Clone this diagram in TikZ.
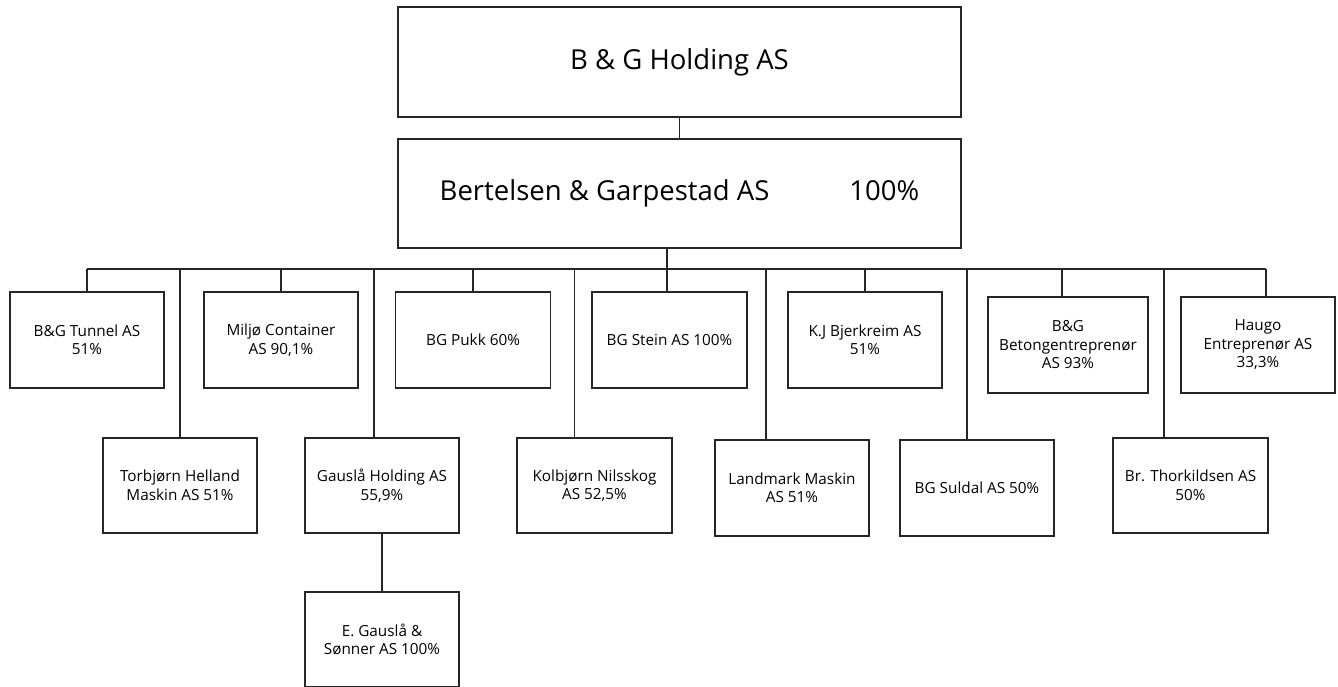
\documentclass[tikz,border=0pt]{standalone}
\usepackage{fontspec}
\setmainfont{Open Sans}
\begin{document}
\begin{tikzpicture}[x=1pt,y=-1pt,
  box/.style={draw=black!85, line width=1.5pt, rectangle, inner sep=0pt, align=center,
    font=\fontsize{15.3}{18.5}\selectfont},
  bigbox/.style={draw=black!85, line width=1.5pt, rectangle, inner sep=0pt, align=center,
    font=\fontsize{27.5}{32}\selectfont},
  link/.style={draw=black!85, line width=1.5pt}]
\useasboundingbox (0,0) rectangle (1338,686);
% top boxes
\node[bigbox, minimum width=563pt, minimum height=110pt] (hold) at (679.5,62) {B \& G Holding AS};
\node[bigbox, minimum width=563pt, minimum height=109pt] (bg) at (679.5,193.5) {Bertelsen \& Garpestad AS\hspace{80pt}100\%};
% row 1
\node[box, minimum width=154pt, minimum height=96pt] (tunnel) at (87,340) {B\&G Tunnel AS\\51\%};
\node[box, minimum width=154pt, minimum height=96pt] (miljo) at (281,340) {Miljø Container\\AS 90,1\%};
\node[box, minimum width=155pt, minimum height=96pt] (pukk) at (473,340) {BG Pukk 60\%};
\node[box, minimum width=155pt, minimum height=96pt] (stein) at (669.5,340) {BG Stein AS 100\%};
\node[box, minimum width=154pt, minimum height=96pt] (kj) at (865,340) {K.J Bjerkreim AS\\51\%};
\node[box, minimum width=160pt, minimum height=96pt] (betong) at (1068,345) {B\&G\\Betongentreprenør\\AS 93\%};
\node[box, minimum width=154pt, minimum height=96pt] (haugo) at (1258,345) {Haugo\\Entreprenør AS\\33,3\%};
% row 2
\node[box, minimum width=154pt, minimum height=95pt] (torb) at (180,485.5) {Torbjørn Helland\\Maskin AS 51\%};
\node[box, minimum width=154pt, minimum height=95pt] (gausla) at (382,485.5) {Gauslå Holding AS\\55,9\%};
\node[box, minimum width=155pt, minimum height=95pt] (kolb) at (594.5,485.5) {Kolbjørn Nilsskog\\AS 52,5\%};
\node[box, minimum width=154pt, minimum height=96pt] (land) at (792,488) {Landmark Maskin\\AS 51\%};
\node[box, minimum width=154pt, minimum height=96pt] (suldal) at (977,488) {BG Suldal AS 50\%};
\node[box, minimum width=155pt, minimum height=95pt] (thork) at (1190.5,485.5) {Br. Thorkildsen AS\\50\%};
% row 3
\node[box, minimum width=154pt, minimum height=95pt] (egausla) at (382,639.5) {E. Gauslå \&\\Sønner AS 100\%};
% connectors
\coordinate (bus) at (667,269);
\draw[link] (hold.south) -- (bg.north);
\draw[link] (bus |- bg.south) -- (bus);
\draw[link] (tunnel.north |- bus) -- ([xshift=8pt]haugo.north |- bus);
\draw[link] (tunnel.north) -- (tunnel.north |- bus);
\draw[link] (miljo.north) -- (miljo.north |- bus);
\draw[link] (pukk.north) -- (pukk.north |- bus);
\draw[link] (bus |- stein.north) -- (bus);
\draw[link] (kj.north) -- (kj.north |- bus);
\draw[link] ([xshift=-6pt]betong.north) -- ([xshift=-6pt]betong.north |- bus);
\draw[link] ([xshift=8pt]haugo.north) -- ([xshift=8pt]haugo.north |- bus);
\draw[link] (torb.north) -- (torb.north |- bus);
\draw[link] ([xshift=-8pt]gausla.north) -- ([xshift=-8pt]gausla.north |- bus);
\draw[link] ([xshift=-20pt]kolb.north) -- ([xshift=-20pt]kolb.north |- bus);
\draw[link] ([xshift=-26pt]land.north) -- ([xshift=-26pt]land.north |- bus);
\draw[link] ([xshift=-10pt]suldal.north) -- ([xshift=-10pt]suldal.north |- bus);
\draw[link] ([xshift=-26.5pt]thork.north) -- ([xshift=-26.5pt]thork.north |- bus);
\draw[link] (gausla.south) -- (egausla.north);
\end{tikzpicture}
\end{document}
